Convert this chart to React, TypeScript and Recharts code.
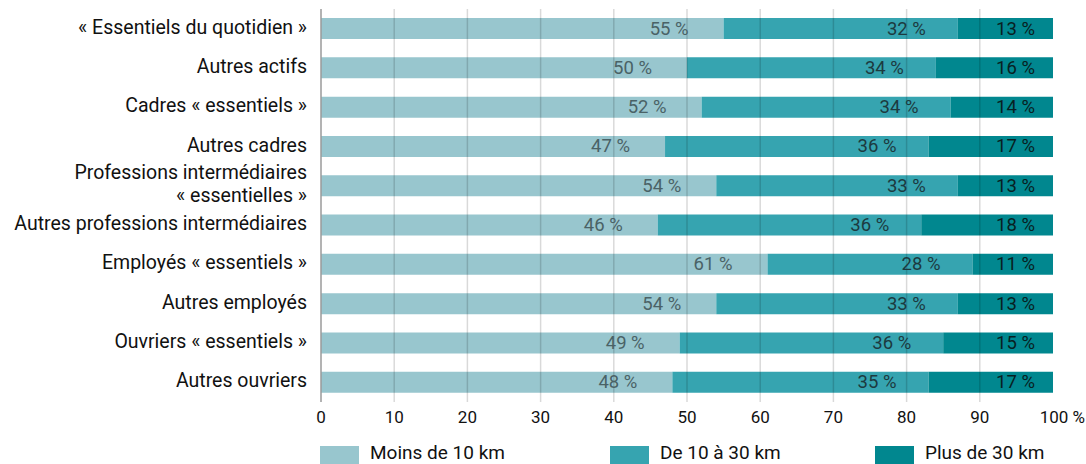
import React from "react";
import {
  BarChart,
  Bar,
  XAxis,
  YAxis,
  ReferenceLine,
  LabelList,
} from "recharts";

const FONT = "Roboto, 'Liberation Sans', sans-serif";

const categories = [
  "«\u00a0Essentiels du quotidien\u00a0»",
  "Autres actifs",
  "Cadres «\u00a0essentiels\u00a0»",
  "Autres cadres",
  "Professions intermédiaires\n«\u00a0essentielles\u00a0»",
  "Autres professions intermédiaires",
  "Employés «\u00a0essentiels\u00a0»",
  "Autres employés",
  "Ouvriers «\u00a0essentiels\u00a0»",
  "Autres ouvriers",
];

const moins10 = [55, 50, 52, 47, 54, 46, 61, 54, 49, 48];
const de10a30 = [32, 34, 34, 36, 33, 36, 28, 33, 36, 35];
const plus30 = [13, 16, 14, 17, 13, 18, 11, 13, 15, 17];

const xTicks = [0, 10, 20, 30, 40, 50, 60, 70, 80, 90, 100];

const series = [
  { key: "moins", name: "Moins de 10 km", color: "#98c6ce", text: "#4a6266", gap: 35 },
  { key: "de", name: "De 10 à 30 km", color: "#36a4b0", text: "#1c3a3f", gap: 32 },
  { key: "plus", name: "Plus de 30 km", color: "#01878f", text: "#081f22", gap: 18 },
];

const data = categories.map((c, i) => ({
  cat: c,
  moins: moins10[i],
  de: de10a30[i],
  plus: plus30[i],
}));

function YTick({ x, y, payload }: any) {
  const lines = String(payload.value).split("\n");
  const lh = 23;
  const start = y - ((lines.length - 1) * lh) / 2 - 2;
  return (
    <text
      x={x - 6}
      y={start}
      textAnchor="end"
      fontFamily={FONT}
      fontSize={19.5}
      fill="#111"
      dominantBaseline="central"
    >
      {lines.map((l, i) => (
        <tspan key={i} x={x - 6} y={start + i * lh}>
          {l}
        </tspan>
      ))}
    </text>
  );
}

function XTick({ x, y, payload }: any) {
  const last = payload.value === 100;
  return (
    <text
      x={last ? x + 32 : x}
      y={y + 13}
      textAnchor={last ? "end" : "middle"}
      fontFamily={FONT}
      fontSize={17}
      fill="#111"
    >
      {last ? "100\u00a0%" : payload.value}
    </text>
  );
}

function makeLabel(color: string, gap: number) {
  return (props: any) => {
    const { x, y, width, height, value } = props;
    return (
      <text
        x={x + width - gap}
        y={y + height / 2}
        textAnchor="end"
        dominantBaseline="central"
        fontFamily={FONT}
        fontSize={18.5}
        fill={color}
      >
        {`${value}\u00a0%`}
      </text>
    );
  };
}

export default function App() {
  return (
    <div
      style={{
        position: "fixed",
        top: 0,
        left: 0,
        width: 1086,
        height: 464,
        background: "#fff",
        fontFamily: FONT,
        overflow: "hidden",
      }}
    >
      <BarChart
        width={1086}
        height={431}
        data={data}
        layout="vertical"
        margin={{ top: 9, right: 33, bottom: 0, left: 0 }}
        barCategoryGap="23%"
      >
        <XAxis
          type="number"
          domain={[0, 100]}
          ticks={xTicks}
          axisLine={false}
          tickLine={false}
          tick={<XTick />}
          height={29}
        />
        <YAxis
          type="category"
          dataKey="cat"
          width={321}
          axisLine={{ stroke: "#9a9a9a", strokeWidth: 1.5 }}
          tickLine={false}
          tick={<YTick />}
          interval={0}
        />
        {series.map((s) => (
          <Bar
            key={s.key}
            dataKey={s.key}
            name={s.name}
            stackId="a"
            fill={s.color}
            isAnimationActive={false}
          >
            <LabelList dataKey={s.key} content={makeLabel(s.text, s.gap)} />
          </Bar>
        ))}
        {xTicks.slice(1, 10).map((t) => (
          <ReferenceLine
            key={t}
            x={t}
            stroke="rgba(0,0,0,0.15)"
            strokeWidth={1.5}
          />
        ))}
      </BarChart>
      <div
        style={{
          position: "absolute",
          left: 320,
          top: 446,
          display: "flex",
          fontSize: 19,
          color: "#111",
        }}
      >
        {series.map((s, i) => (
          <div
            key={s.key}
            style={{
              position: "relative",
              width: i === 0 ? 290 : i === 1 ? 265 : 200,
              height: 18,
            }}
          >
            <div style={{ width: 39, height: 18, background: s.color }} />
            <span
              style={{
                position: "absolute",
                left: 50,
                top: -4,
                lineHeight: "22px",
                whiteSpace: "nowrap",
              }}
            >
              {s.name}
            </span>
          </div>
        ))}
      </div>
    </div>
  );
}
